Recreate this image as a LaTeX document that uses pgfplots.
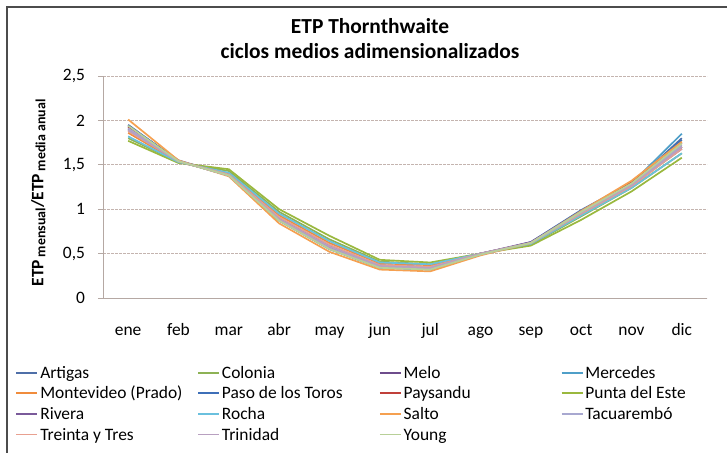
\documentclass[border=0pt]{standalone}
\usepackage{fontspec}
\setmainfont{Carlito}
\usepackage{pgfplots}
\pgfplotsset{compat=1.18}

\definecolor{cArtigas}{HTML}{4F6FA8}
\definecolor{cColonia}{HTML}{8DB255}
\definecolor{cMelo}{HTML}{6E4C8C}
\definecolor{cMercedes}{HTML}{4F9FC8}
\definecolor{cMontevideo}{HTML}{F08C3C}
\definecolor{cPaso}{HTML}{3E6FB8}
\definecolor{cPaysandu}{HTML}{C0403A}
\definecolor{cPunta}{HTML}{9AB83E}
\definecolor{cRivera}{HTML}{7A5A9A}
\definecolor{cRocha}{HTML}{6AC0DE}
\definecolor{cSalto}{HTML}{F5A050}
\definecolor{cTacuarembo}{HTML}{A8A8D0}
\definecolor{cTreinta}{HTML}{E8A090}
\definecolor{cTrinidad}{HTML}{B8A0C0}
\definecolor{cYoung}{HTML}{B8D098}
\definecolor{axisgray}{HTML}{B5A8A3}
\definecolor{gridgray}{HTML}{C4B4AF}

\newcommand{\legtxt}[1]{\makebox[155bp][l]{\rule[-4.3bp]{0pt}{18bp}#1}}

\begin{document}
\begin{tikzpicture}
\fontsize{17.5}{21}\selectfont
% frame
\draw[color=black!70, line width=1.3bp] (7bp,0bp) -- (7bp,446bp) -- (730bp,446bp);
% title
\node[anchor=base, font=\fontsize{21.5}{25}\selectfont\bfseries] at (370bp,419bp) {ETP Thornthwaite};
\node[anchor=base, font=\fontsize{21.5}{25}\selectfont\bfseries] at (370bp,394bp) {ciclos medios adimensionalizados};
\begin{axis}[
  at={(103bp,155bp)}, anchor=south west,
  scale only axis, width=604bp, height=222bp,
  xmin=-0.5, xmax=11.5, ymin=0, ymax=2.5,
  axis lines*=left,
  axis line style={color=axisgray, line width=1bp},
  xtick={0,...,11},
  xticklabels={ene,feb,mar,abr,may,jun,jul,ago,sep,oct,nov,dic},
  minor xtick={-0.5,0.5,...,11.5},
  ytick={0,0.5,...,2.5},
  tick align=outside,
  major tick length=5bp, minor tick length=7bp,
  xtick style={draw=none},
  minor tick style={color=axisgray, line width=0.8bp},
  ytick style={color=axisgray, line width=0.8bp},
  ymajorgrids=true,
  major grid style={color=gridgray, line width=0.9bp, dash pattern=on 2.5bp off 1.5bp},
  /pgf/number format/.cd, use comma, 1000 sep={}, assume math mode=true,
  /pgfplots/.cd,
  tick label style={font=\fontsize{17.5}{21}\selectfont},
  xticklabel style={anchor=north, text height=12bp, text depth=3bp, yshift=-14bp},
  yticklabel style={xshift=-7bp},
  ylabel={\bfseries ETP\,\raisebox{-2bp}{\fontsize{14}{16}\selectfont mensual}/ETP\,\raisebox{-2bp}{\fontsize{14}{16}\selectfont media anual}},
  ylabel style={at={(axis description cs:-0.107,0.473)}, anchor=center, font=\fontsize{17.5}{21}\selectfont},
  every axis plot/.append style={line width=1.7bp, mark=none},
  legend columns=4,
  legend cell align=left,
  legend style={at={(axis description cs:-0.145,-0.29)}, anchor=north west,
    draw=none, fill=none, font=\fontsize{17.5}{21}\selectfont,
    inner sep=0bp, row sep=0.3bp},
  legend image code/.code={\draw[#1] plot coordinates {(0bp,0bp) (21bp,0bp)};},
]
\addplot[color=cArtigas] coordinates {(0,1.95)(1,1.54)(2,1.39)(3,0.88)(4,0.57)(5,0.36)(6,0.34)(7,0.50)(8,0.62)(9,0.97)(10,1.28)(11,1.80)};
\addlegendentry{\legtxt{Artigas}}
\addplot[color=cColonia] coordinates {(0,1.80)(1,1.53)(2,1.43)(3,0.97)(4,0.66)(5,0.41)(6,0.38)(7,0.50)(8,0.60)(9,0.92)(10,1.24)(11,1.63)};
\addlegendentry{\legtxt{Colonia}}
\addplot[color=cMelo] coordinates {(0,1.92)(1,1.54)(2,1.39)(3,0.90)(4,0.58)(5,0.37)(6,0.35)(7,0.50)(8,0.62)(9,0.96)(10,1.27)(11,1.70)};
\addlegendentry{\legtxt{Melo}}
\addplot[color=cMercedes] coordinates {(0,1.90)(1,1.54)(2,1.38)(3,0.89)(4,0.57)(5,0.35)(6,0.33)(7,0.49)(8,0.62)(9,0.98)(10,1.29)(11,1.85)};
\addlegendentry{\legtxt{Mercedes}}
\addplot[color=cMontevideo] coordinates {(0,1.86)(1,1.53)(2,1.40)(3,0.93)(4,0.62)(5,0.39)(6,0.37)(7,0.50)(8,0.61)(9,0.94)(10,1.25)(11,1.70)};
\addlegendentry{\legtxt{Montevideo (Prado)}}
\addplot[color=cPaso] coordinates {(0,1.94)(1,1.55)(2,1.38)(3,0.87)(4,0.55)(5,0.34)(6,0.32)(7,0.49)(8,0.63)(9,0.99)(10,1.30)(11,1.78)};
\addlegendentry{\legtxt{Paso de los Toros}}
\addplot[color=cPaysandu] coordinates {(0,1.93)(1,1.54)(2,1.38)(3,0.88)(4,0.56)(5,0.35)(6,0.33)(7,0.49)(8,0.62)(9,0.97)(10,1.31)(11,1.75)};
\addlegendentry{\legtxt{Paysandu}}
\addplot[color=cPunta] coordinates {(0,1.77)(1,1.52)(2,1.45)(3,1.00)(4,0.70)(5,0.43)(6,0.40)(7,0.50)(8,0.59)(9,0.88)(10,1.20)(11,1.58)};
\addlegendentry{\legtxt{Punta del Este}}
\addplot[color=cRivera] coordinates {(0,1.90)(1,1.54)(2,1.39)(3,0.90)(4,0.58)(5,0.36)(6,0.34)(7,0.50)(8,0.63)(9,0.97)(10,1.27)(11,1.68)};
\addlegendentry{\legtxt{Rivera}}
\addplot[color=cRocha] coordinates {(0,1.82)(1,1.53)(2,1.41)(3,0.95)(4,0.64)(5,0.40)(6,0.38)(7,0.50)(8,0.61)(9,0.93)(10,1.24)(11,1.63)};
\addlegendentry{\legtxt{Rocha}}
\addplot[color=cSalto] coordinates {(0,2.01)(1,1.55)(2,1.37)(3,0.84)(4,0.52)(5,0.32)(6,0.30)(7,0.48)(8,0.62)(9,0.98)(10,1.32)(11,1.76)};
\addlegendentry{\legtxt{Salto}}
\addplot[color=cTacuarembo] coordinates {(0,1.91)(1,1.54)(2,1.38)(3,0.88)(4,0.56)(5,0.35)(6,0.33)(7,0.49)(8,0.62)(9,0.97)(10,1.28)(11,1.72)};
\addlegendentry{\legtxt{Tacuarembó}}
\addplot[color=cTreinta] coordinates {(0,1.88)(1,1.54)(2,1.39)(3,0.91)(4,0.60)(5,0.37)(6,0.35)(7,0.50)(8,0.62)(9,0.95)(10,1.26)(11,1.68)};
\addlegendentry{\legtxt{Treinta y Tres}}
\addplot[color=cTrinidad] coordinates {(0,1.89)(1,1.54)(2,1.38)(3,0.89)(4,0.58)(5,0.36)(6,0.34)(7,0.50)(8,0.62)(9,0.96)(10,1.27)(11,1.70)};
\addlegendentry{\legtxt{Trinidad}}
\addplot[color=cYoung] coordinates {(0,1.94)(1,1.54)(2,1.38)(3,0.87)(4,0.55)(5,0.34)(6,0.32)(7,0.49)(8,0.62)(9,0.97)(10,1.29)(11,1.74)};
\addlegendentry{\legtxt{Young}}
\end{axis}
\pgfresetboundingbox
\path[use as bounding box] (0bp,0bp) rectangle (727bp,453bp);
\end{tikzpicture}
\end{document}
